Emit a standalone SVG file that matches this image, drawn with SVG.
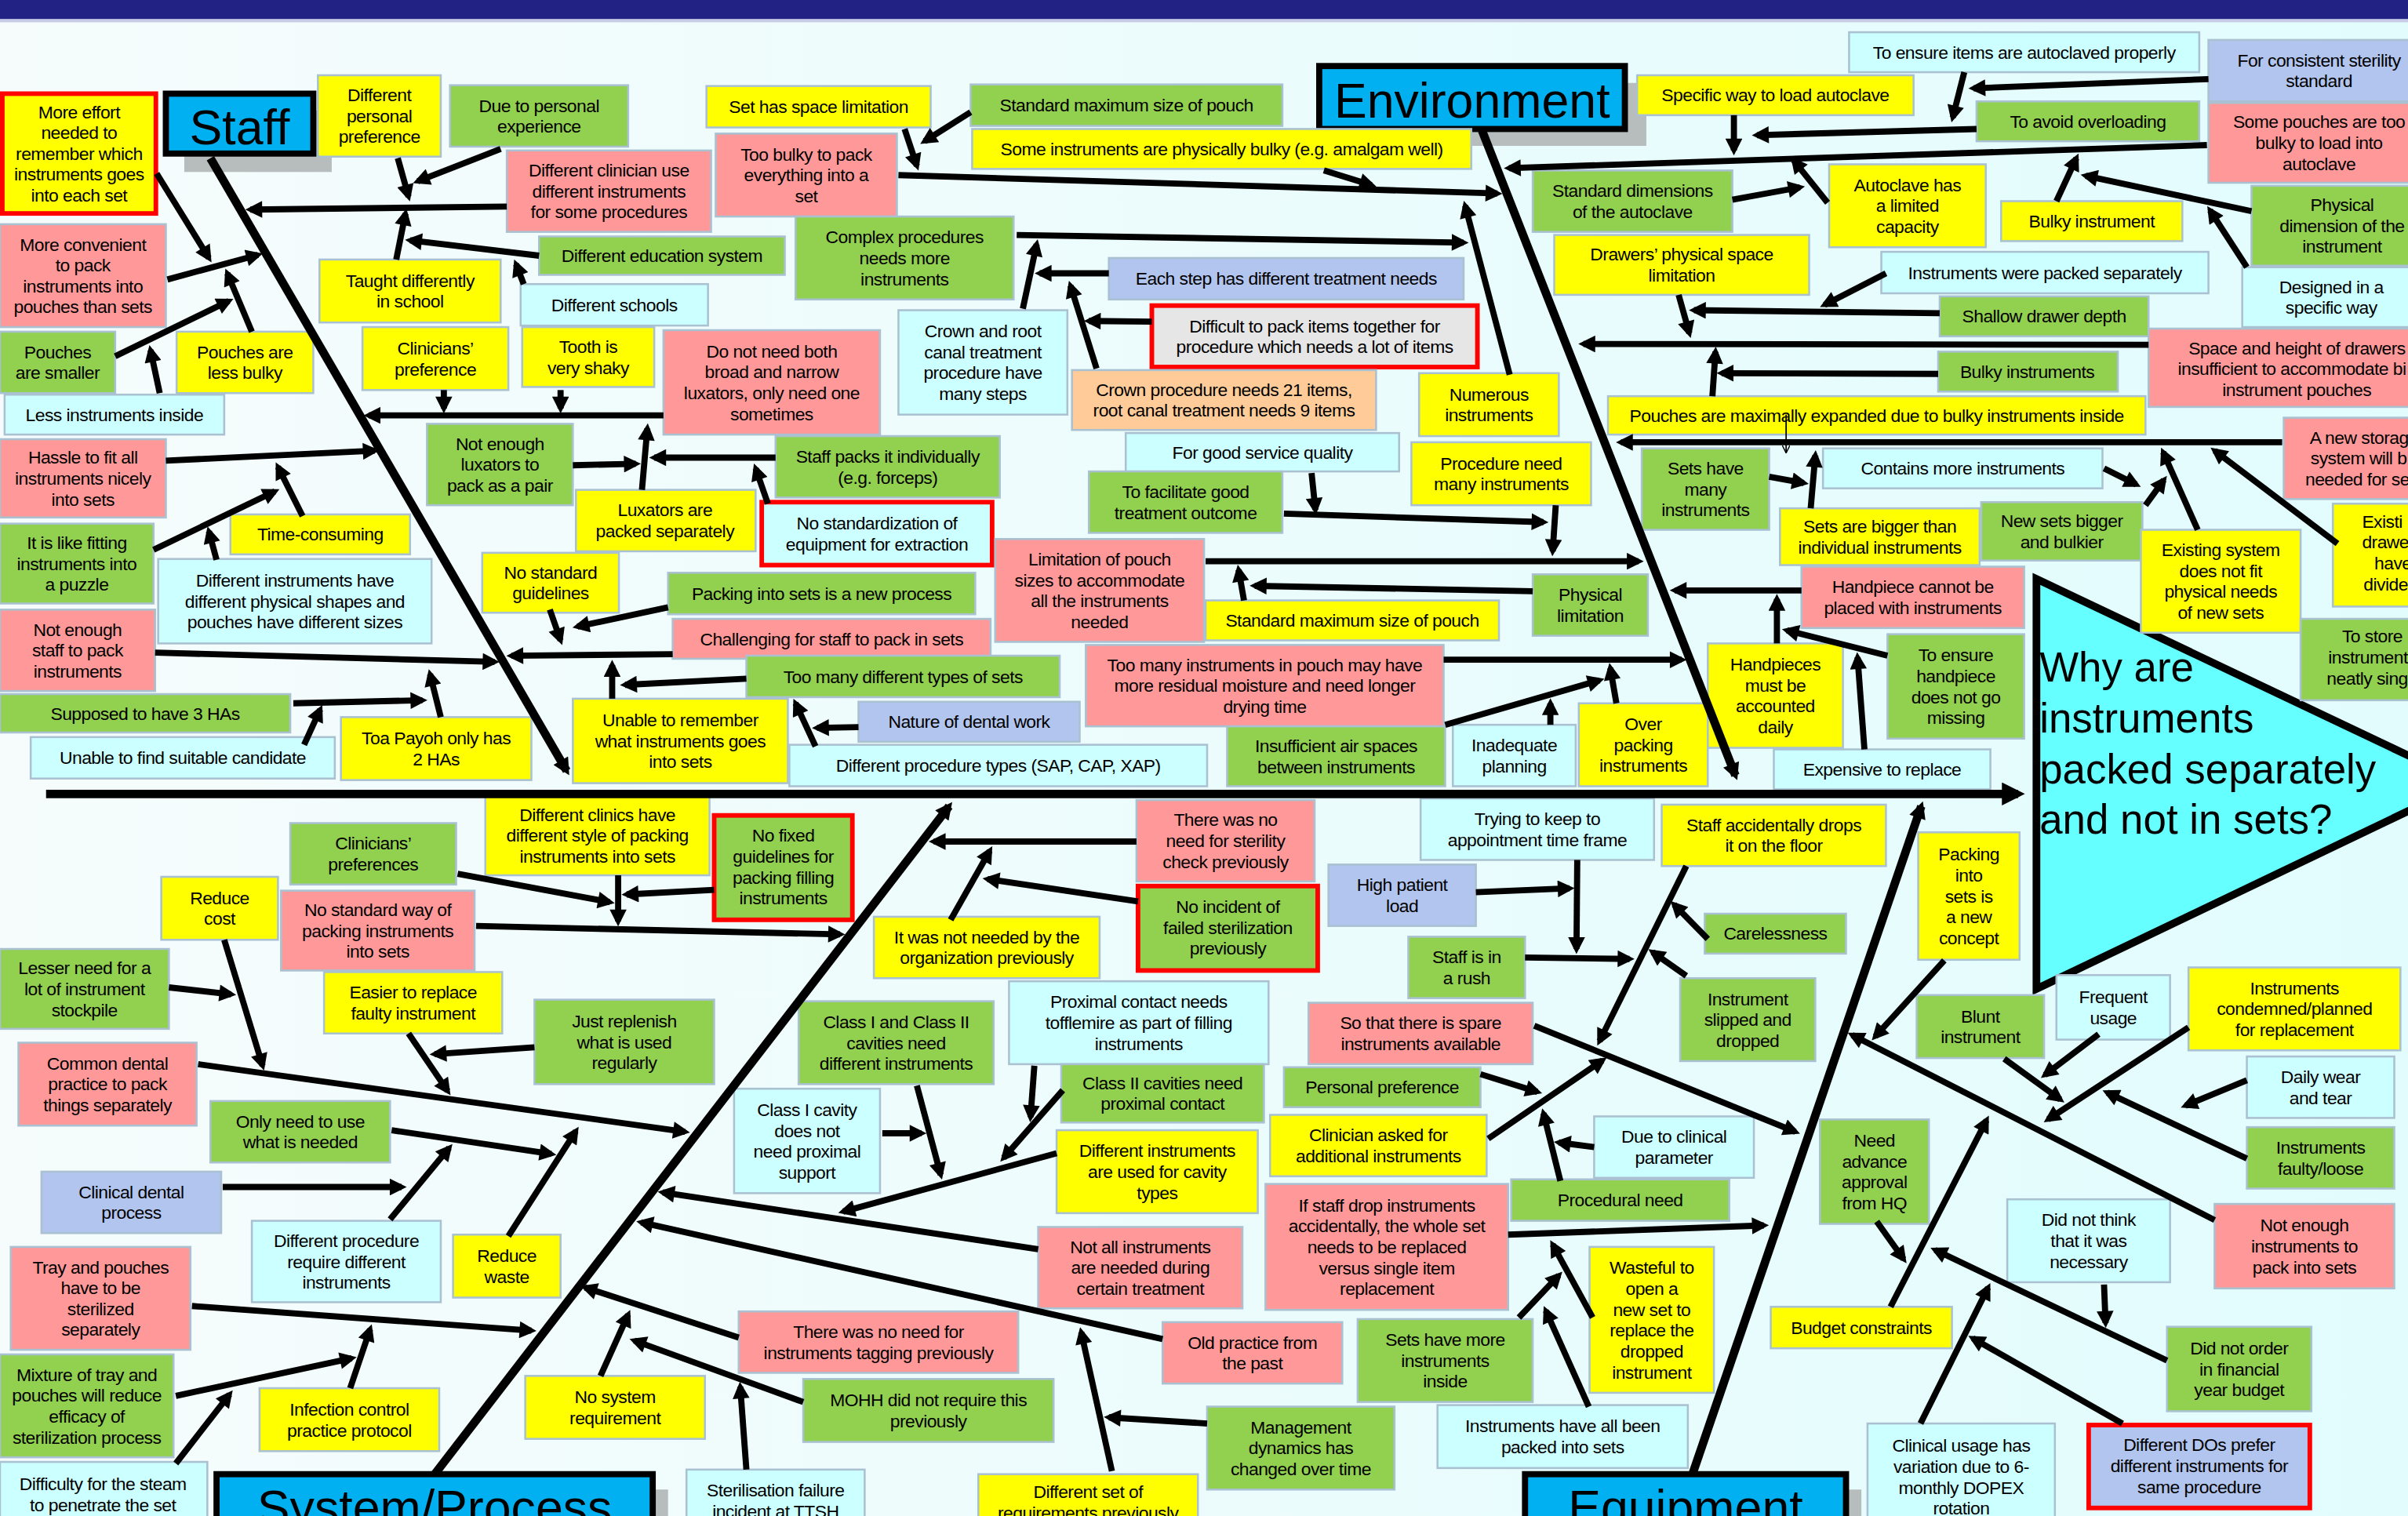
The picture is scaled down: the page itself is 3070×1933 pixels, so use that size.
<svg xmlns="http://www.w3.org/2000/svg" width="3070" height="1933" viewBox="0 0 3070 1933">
<defs>
<linearGradient id="bg" x1="0" y1="0" x2="1" y2="0"><stop offset="0" stop-color="#F6FCFC"/><stop offset="1" stop-color="#E2FCFD"/></linearGradient>
<marker id="a" viewBox="0 0 10 10" refX="7" refY="5" markerWidth="13" markerHeight="11" markerUnits="userSpaceOnUse" orient="auto"><path d="M0,0L10,5L0,10z"/></marker>
<marker id="ab" viewBox="0 0 10 10" refX="7" refY="5" markerWidth="16" markerHeight="15" markerUnits="userSpaceOnUse" orient="auto"><path d="M0,0L10,5L0,10z"/></marker>
<marker id="at" viewBox="0 0 10 10" refX="10" refY="5" markerWidth="5" markerHeight="5" markerUnits="userSpaceOnUse" orient="auto"><path d="M0,0L10,5L0,10" fill="none" stroke="#000" stroke-width="1.5"/></marker>
<style>
.b{stroke:#A9C1D1;stroke-width:1.3}
.r{stroke:#FF0000;stroke-width:3}
.y{fill:#FFFF00}.g{fill:#92D050}.p{fill:#FF9999}.c{fill:#CCFFFF}.l{fill:#B2C5EE}.o{fill:#FFCC99}.e{fill:#E6E6E6}
.h{fill:#00B0F0;stroke:#000;stroke-width:4}
.sh{fill:#B7BDBD}
.t{font-family:"Liberation Sans",Arial,sans-serif;font-size:11.7px;letter-spacing:-0.28px;text-anchor:middle;fill:#000}
.s{text-anchor:start}
.ht{font-family:"Liberation Sans",Arial,sans-serif;font-size:32px;text-anchor:middle;fill:#000}
.qt{font-family:"Liberation Sans",Arial,sans-serif;font-size:27px;fill:#000}
#conn line{stroke:#000;stroke-width:4;marker-end:url(#a)}
#conn line.bone{stroke-width:5.5}
#conn line.sp{stroke-width:5.5;marker-end:url(#ab)}
#conn line.thin{stroke-width:0.9;marker-end:url(#at)}
</style>
</defs>
<rect x="0" y="0" width="3070" height="1933" fill="url(#bg)"/>
<g transform="scale(1.958)">
<rect x="0" y="0" width="1570" height="12.5" fill="#222285"/>
<rect x="0" y="12.5" width="1570" height="2" fill="#C9CCE6"/>

<!-- headers -->
<g id="hdr-staff"><rect class="sh" x="120" y="72" width="96" height="40"/><rect class="h" x="108" y="61" width="96" height="39"/><text class="ht" x="156" y="94">Staff</text></g>
<g id="hdr-env"><rect class="sh" x="871" y="54" width="201" height="41"/><rect class="h" x="859" y="43" width="199" height="41"/><text class="ht" x="958.5" y="76.5">Environment</text></g>
<g id="hdr-sys"><rect class="sh" x="151" y="970" width="284" height="40"/><rect class="h" x="141" y="960" width="284" height="40"/><text class="ht" x="283" y="993">System/Process</text></g>
<g id="hdr-eq"><rect class="sh" x="1003" y="970" width="209" height="40"/><rect class="h" x="993" y="960" width="209" height="40"/><text class="ht" x="1097.5" y="993">Equipment</text></g>

<!-- effect -->
<g id="effect"><polygon points="1326,377 1606,510 1326,644" fill="#66FFFF" stroke="#000" stroke-width="5" stroke-linejoin="miter"/>
<text class="qt" x="1328" y="444">Why are<tspan x="1328" dy="33">instruments</tspan><tspan x="1328" dy="33">packed separately</tspan><tspan x="1328" dy="33">and not in sets?</tspan></text></g>

<!-- STAFF nodes -->
<g id="s1"><rect class="b y r" x="1.5" y="61" width="100" height="78"/><text class="t" x="51.5" y="76.9">More effort<tspan x="51.5" dy="13.6">needed to</tspan><tspan x="51.5" dy="13.6">remember which</tspan><tspan x="51.5" dy="13.6">instruments goes</tspan><tspan x="51.5" dy="13.6">into each set</tspan></text></g>
<g id="s3"><rect class="b y" x="207" y="49" width="80" height="53"/><text class="t" x="247" y="66">Different<tspan x="247" dy="13.6">personal</tspan><tspan x="247" dy="13.6">preference</tspan></text></g>
<g id="s4"><rect class="b g" x="293" y="55.5" width="116" height="40"/><text class="t" x="351" y="72.9">Due to personal<tspan x="351" dy="13.6">experience</tspan></text></g>
<g id="s5"><rect class="b p" x="330" y="98" width="133" height="53"/><text class="t" x="396.5" y="115">Different clinician use<tspan x="396.5" dy="13.6">different instruments</tspan><tspan x="396.5" dy="13.6">for some procedures</tspan></text></g>
<g id="s6"><rect class="b g" x="351" y="154" width="160" height="25"/><text class="t" x="431" y="170.6">Different education system</text></g>
<g id="s7"><rect class="b y" x="208" y="169" width="118" height="41"/><text class="t" x="267" y="186.8">Taught differently<tspan x="267" dy="13.6">in school</tspan></text></g>
<g id="s8"><rect class="b c" x="339" y="185" width="122" height="27"/><text class="t" x="400" y="202.6">Different schools</text></g>
<g id="s9"><rect class="b p" x="0" y="146" width="108" height="67"/><text class="t" x="54" y="163.2">More convenient<tspan x="54" dy="13.6">to pack</tspan><tspan x="54" dy="13.6">instruments into</tspan><tspan x="54" dy="13.6">pouches than sets</tspan></text></g>
<g id="s10"><rect class="b g" x="0" y="216" width="75" height="40"/><text class="t" x="37.5" y="233.3">Pouches<tspan x="37.5" dy="13.6">are smaller</tspan></text></g>
<g id="s11"><rect class="b y" x="115" y="216" width="89" height="40"/><text class="t" x="159.5" y="233.3">Pouches are<tspan x="159.5" dy="13.6">less bulky</tspan></text></g>
<g id="s12"><rect class="b c" x="3" y="257" width="143" height="26"/><text class="t" x="74.5" y="274.1">Less instruments inside</text></g>
<g id="s13"><rect class="b y" x="236" y="213" width="95" height="41"/><text class="t" x="283.5" y="230.8">Clinicians’<tspan x="283.5" dy="13.6">preference</tspan></text></g>
<g id="s14"><rect class="b y" x="340" y="213" width="86" height="39"/><text class="t" x="383" y="229.8">Tooth is<tspan x="383" dy="13.6">very shaky</tspan></text></g>
<g id="s15"><rect class="b p" x="432" y="215" width="141" height="68"/><text class="t" x="502.5" y="232.7">Do not need both<tspan x="502.5" dy="13.6">broad and narrow</tspan><tspan x="502.5" dy="13.6">luxators, only need one</tspan><tspan x="502.5" dy="13.6">sometimes</tspan></text></g>
<g id="s16"><rect class="b p" x="0" y="286" width="108" height="51"/><text class="t" x="54" y="302">Hassle to fit all<tspan x="54" dy="13.6">instruments nicely</tspan><tspan x="54" dy="13.6">into sets</tspan></text></g>
<g id="s17"><rect class="b g" x="278" y="276" width="95" height="53"/><text class="t" x="325.5" y="293">Not enough<tspan x="325.5" dy="13.6">luxators to</tspan><tspan x="325.5" dy="13.6">pack as a pair</tspan></text></g>
<g id="s18"><rect class="b g" x="505" y="284" width="146" height="40"/><text class="t" x="578" y="301.3">Staff packs it individually<tspan x="578" dy="13.6">(e.g. forceps)</tspan></text></g>
<g id="s19"><rect class="b y" x="375" y="319" width="117" height="40"/><text class="t" x="433" y="336.3">Luxators are<tspan x="433" dy="13.6">packed separately</tspan></text></g>
<g id="s20"><rect class="b c r" x="496" y="327" width="150" height="41"/><text class="t" x="571" y="344.8">No standardization of<tspan x="571" dy="13.6">equipment for extraction</tspan></text></g>
<g id="s21"><rect class="b y" x="150" y="335" width="117" height="26"/><text class="t" x="208.5" y="352.1">Time-consuming</text></g>
<g id="s22"><rect class="b g" x="0" y="341" width="100" height="52"/><text class="t" x="50" y="357.5">It is like fitting<tspan x="50" dy="13.6">instruments into</tspan><tspan x="50" dy="13.6">a puzzle</tspan></text></g>
<g id="s23"><rect class="b c" x="103" y="364" width="178" height="55"/><text class="t" x="192" y="382">Different instruments have<tspan x="192" dy="13.6">different physical shapes and</tspan><tspan x="192" dy="13.6">pouches have different sizes</tspan></text></g>
<g id="s24"><rect class="b y" x="314" y="360" width="89" height="39"/><text class="t" x="358.5" y="376.8">No standard<tspan x="358.5" dy="13.6">guidelines</tspan></text></g>
<g id="s25"><rect class="b g" x="435" y="373" width="200" height="27"/><text class="t" x="535" y="390.6">Packing into sets is a new process</text></g>
<g id="s26"><rect class="b p" x="0" y="397" width="101" height="53"/><text class="t" x="50.5" y="414">Not enough<tspan x="50.5" dy="13.6">staff to pack</tspan><tspan x="50.5" dy="13.6">instruments</tspan></text></g>
<g id="s27"><rect class="b p" x="438" y="403" width="207" height="26"/><text class="t" x="541.5" y="420.1">Challenging for staff to pack in sets</text></g>
<g id="s28"><rect class="b g" x="486" y="427" width="204" height="27"/><text class="t" x="588" y="444.6">Too many different types of sets</text></g>
<g id="s29"><rect class="b g" x="0" y="452" width="189" height="25"/><text class="t" x="94.5" y="468.6">Supposed to have 3 HAs</text></g>
<g id="s30"><rect class="b y" x="373" y="455" width="140" height="55"/><text class="t" x="443" y="473">Unable to remember<tspan x="443" dy="13.6">what instruments goes</tspan><tspan x="443" dy="13.6">into sets</tspan></text></g>
<g id="s31"><rect class="b l" x="559" y="457" width="144" height="26"/><text class="t" x="631" y="474.1">Nature of dental work</text></g>
<g id="s32"><rect class="b y" x="222" y="467" width="124" height="41"/><text class="t" x="284" y="484.8">Toa Payoh only has<tspan x="284" dy="13.6">2 HAs</tspan></text></g>
<g id="s33"><rect class="b c" x="20" y="480" width="198" height="27"/><text class="t" x="119" y="497.6">Unable to find suitable candidate</text></g>
<g id="s34"><rect class="b c" x="514" y="485" width="272" height="27"/><text class="t" x="650" y="502.6">Different procedure types (SAP, CAP, XAP)</text></g>

<!-- ENVIRONMENT nodes -->
<g id="e35"><rect class="b y" x="460" y="56" width="146" height="27"/><text class="t" x="533" y="73.6">Set has space limitation</text></g>
<g id="e36"><rect class="b g" x="632" y="55" width="203" height="27"/><text class="t" x="733.5" y="72.6">Standard maximum size of pouch</text></g>
<g id="e37"><rect class="b y" x="633" y="84" width="325" height="26"/><text class="t" x="795.5" y="101.1">Some instruments are physically bulky (e.g. amalgam well)</text></g>
<g id="e38"><rect class="b p" x="466" y="87" width="118" height="54"/><text class="t" x="525" y="104.5">Too bulky to pack<tspan x="525" dy="13.6">everything into a</tspan><tspan x="525" dy="13.6">set</tspan></text></g>
<g id="e39"><rect class="b g" x="518" y="141" width="142" height="54"/><text class="t" x="589" y="158.5">Complex procedures<tspan x="589" dy="13.6">needs more</tspan><tspan x="589" dy="13.6">instruments</tspan></text></g>
<g id="e40"><rect class="b l" x="722" y="168" width="231" height="27"/><text class="t" x="837.5" y="185.6">Each step has different treatment needs</text></g>
<g id="e41"><rect class="b e r" x="750" y="199" width="212" height="40"/><text class="t" x="856" y="216.3">Difficult to pack items together for<tspan x="856" dy="13.6">procedure which needs a lot of items</tspan></text></g>
<g id="e42"><rect class="b c" x="585" y="202" width="110" height="68"/><text class="t" x="640" y="219.7">Crown and root<tspan x="640" dy="13.6">canal treatment</tspan><tspan x="640" dy="13.6">procedure have</tspan><tspan x="640" dy="13.6">many steps</tspan></text></g>
<g id="e43"><rect class="b o" x="698" y="241" width="198" height="39"/><text class="t" x="797" y="257.8">Crown procedure needs 21 items,<tspan x="797" dy="13.6">root canal treatment needs 9 items</tspan></text></g>
<g id="e44"><rect class="b c" x="733" y="282" width="178" height="25"/><text class="t" x="822" y="298.6">For good service quality</text></g>
<g id="e45"><rect class="b g" x="709" y="307" width="126" height="40"/><text class="t" x="772" y="324.3">To facilitate good<tspan x="772" dy="13.6">treatment outcome</tspan></text></g>
<g id="e46"><rect class="b y" x="924" y="243" width="91" height="41"/><text class="t" x="969.5" y="260.8">Numerous<tspan x="969.5" dy="13.6">instruments</tspan></text></g>
<g id="e47"><rect class="b y" x="919" y="288" width="117" height="41"/><text class="t" x="977.5" y="305.8">Procedure need<tspan x="977.5" dy="13.6">many instruments</tspan></text></g>
<g id="e48"><rect class="b p" x="648" y="351" width="136" height="67"/><text class="t" x="716" y="368.2">Limitation of pouch<tspan x="716" dy="13.6">sizes to accommodate</tspan><tspan x="716" dy="13.6">all the instruments</tspan><tspan x="716" dy="13.6">needed</tspan></text></g>
<g id="e49"><rect class="b y" x="785" y="391" width="191" height="26"/><text class="t" x="880.5" y="408.1">Standard maximum size of pouch</text></g>
<g id="e50"><rect class="b g" x="998" y="374" width="75" height="40"/><text class="t" x="1035.5" y="391.3">Physical<tspan x="1035.5" dy="13.6">limitation</tspan></text></g>
<g id="e51"><rect class="b p" x="707" y="420" width="233" height="53"/><text class="t" x="823.5" y="437">Too many instruments in pouch may have<tspan x="823.5" dy="13.6">more residual moisture and need longer</tspan><tspan x="823.5" dy="13.6">drying time</tspan></text></g>
<g id="e52"><rect class="b g" x="799" y="473" width="142" height="39"/><text class="t" x="870" y="489.8">Insufficient air spaces<tspan x="870" dy="13.6">between instruments</tspan></text></g>
<g id="e53"><rect class="b c" x="946" y="472" width="80" height="40"/><text class="t" x="986" y="489.3">Inadequate<tspan x="986" dy="13.6">planning</tspan></text></g>
<g id="e54"><rect class="b y" x="1028" y="458" width="84" height="54"/><text class="t" x="1070" y="475.5">Over<tspan x="1070" dy="13.6">packing</tspan><tspan x="1070" dy="13.6">instruments</tspan></text></g>
<g id="e56"><rect class="b y" x="1066" y="49" width="180" height="26"/><text class="t" x="1156" y="66.1">Specific way to load autoclave</text></g>
<g id="e57"><rect class="b c" x="1204" y="21" width="228" height="26"/><text class="t" x="1318" y="38.1">To ensure items are autoclaved properly</text></g>
<g id="e58"><rect class="b l" x="1438" y="26" width="144" height="40"/><text class="t" x="1510" y="43.3">For consistent sterility<tspan x="1510" dy="13.6">standard</tspan></text></g>
<g id="e59"><rect class="b g" x="1287" y="66" width="145" height="26"/><text class="t" x="1359.5" y="83.1">To avoid overloading</text></g>
<g id="e60"><rect class="b p" x="1438" y="67" width="144" height="52"/><text class="t" x="1510" y="83.5">Some pouches are too<tspan x="1510" dy="13.6">bulky to load into</tspan><tspan x="1510" dy="13.6">autoclave</tspan></text></g>
<g id="e61"><rect class="b g" x="998" y="111" width="130" height="40"/><text class="t" x="1063" y="128.3">Standard dimensions<tspan x="1063" dy="13.6">of the autoclave</tspan></text></g>
<g id="e62"><rect class="b y" x="1191" y="107" width="102" height="54"/><text class="t" x="1242" y="124.5">Autoclave has<tspan x="1242" dy="13.6">a limited</tspan><tspan x="1242" dy="13.6">capacity</tspan></text></g>
<g id="e63"><rect class="b y" x="1303" y="131" width="118" height="26"/><text class="t" x="1362" y="148.1">Bulky instrument</text></g>
<g id="e64"><rect class="b g" x="1466" y="121" width="119" height="52"/><text class="t" x="1525" y="137.5">Physical<tspan x="1525" dy="13.6">dimension of the</tspan><tspan x="1525" dy="13.6">instrument</tspan></text></g>
<g id="e65"><rect class="b y" x="1012" y="153" width="166" height="39"/><text class="t" x="1095" y="169.8">Drawers’ physical space<tspan x="1095" dy="13.6">limitation</tspan></text></g>
<g id="e66"><rect class="b c" x="1225" y="164" width="213" height="27"/><text class="t" x="1331.5" y="181.6">Instruments were packed separately</text></g>
<g id="e67"><rect class="b c" x="1460" y="174" width="117" height="39"/><text class="t" x="1518" y="190.8">Designed in a<tspan x="1518" dy="13.6">specific way</tspan></text></g>
<g id="e68"><rect class="b g" x="1263" y="193" width="136" height="26"/><text class="t" x="1331" y="210.1">Shallow drawer depth</text></g>
<g id="e69"><rect class="b p" x="1399" y="214" width="180" height="51"/><text class="t s" x="1425" y="230.6">Space and height of drawers<tspan x="1418" dy="13.6">insufficient to accommodate bi</tspan><tspan x="1447" dy="13.6">instrument pouches</tspan></text></g>
<g id="e70"><rect class="b g" x="1262" y="229" width="117" height="26"/><text class="t" x="1320" y="246.1">Bulky instruments</text></g>
<g id="e71"><rect class="b y" x="1047" y="258" width="350" height="25"/><text class="t" x="1222" y="274.6">Pouches are maximally expanded due to bulky instruments inside</text></g>
<g id="e72"><rect class="b p" x="1487" y="272" width="90" height="53"/><text class="t s" x="1504" y="289">A new storag<tspan x="1504.5" dy="13.6">system will b</tspan><tspan x="1501" dy="13.6">needed for se</tspan></text></g>
<g id="e73"><rect class="b g" x="1069" y="292" width="83" height="53"/><text class="t" x="1110.5" y="309">Sets have<tspan x="1110.5" dy="13.6">many</tspan><tspan x="1110.5" dy="13.6">instruments</tspan></text></g>
<g id="e74"><rect class="b c" x="1187" y="292" width="182" height="26"/><text class="t" x="1278" y="309.1">Contains more instruments</text></g>
<g id="e75"><rect class="b y" x="1159" y="331" width="130" height="37"/><text class="t" x="1224" y="346.8">Sets are bigger than<tspan x="1224" dy="13.6">individual instruments</tspan></text></g>
<g id="e76"><rect class="b g" x="1290" y="327" width="105" height="38"/><text class="t" x="1342.5" y="343.3">New sets bigger<tspan x="1342.5" dy="13.6">and bulkier</tspan></text></g>
<g id="e77"><rect class="b y" x="1394" y="345" width="104" height="67"/><text class="t" x="1446" y="362.2">Existing system<tspan x="1446" dy="13.6">does not fit</tspan><tspan x="1446" dy="13.6">physical needs</tspan><tspan x="1446" dy="13.6">of new sets</tspan></text></g>
<g id="e78"><rect class="b y" x="1519" y="328" width="60" height="67"/><text class="t s" x="1538" y="343.6">Existi<tspan x="1538" dy="13.6">drawe</tspan><tspan x="1546" dy="13.6">have</tspan><tspan x="1539" dy="13.6">divide</tspan></text></g>
<g id="e79"><rect class="b p" x="1173" y="369" width="145" height="40"/><text class="t" x="1245.5" y="386.3">Handpiece cannot be<tspan x="1245.5" dy="13.6">placed with instruments</tspan></text></g>
<g id="e80"><rect class="b g" x="1229" y="413" width="89" height="68"/><text class="t" x="1273.5" y="430.7">To ensure<tspan x="1273.5" dy="13.6">handpiece</tspan><tspan x="1273.5" dy="13.6">does not go</tspan><tspan x="1273.5" dy="13.6">missing</tspan></text></g>
<g id="e81"><rect class="b y" x="1112" y="419" width="88" height="68"/><text class="t" x="1156" y="436.7">Handpieces<tspan x="1156" dy="13.6">must be</tspan><tspan x="1156" dy="13.6">accounted</tspan><tspan x="1156" dy="13.6">daily</tspan></text></g>
<g id="e82"><rect class="b g" x="1498" y="403" width="80" height="53"/><text class="t s" x="1525" y="418.5">To store<tspan x="1516" dy="13.6">instrument</tspan><tspan x="1515" dy="13.6">neatly sing</tspan></text></g>
<g id="e83"><rect class="b c" x="1155" y="488" width="141" height="26"/><text class="t" x="1225.5" y="505.1">Expensive to replace</text></g>

<!-- SYSTEM / PROCESS nodes -->
<g id="p1"><rect class="b g" x="189" y="536" width="108" height="40"/><text class="t" x="243" y="553.3">Clinicians’<tspan x="243" dy="13.6">preferences</tspan></text></g>
<g id="p2"><rect class="b y" x="316" y="518" width="146" height="52"/><text class="t" x="389" y="534.5">Different clinics have<tspan x="389" dy="13.6">different style of packing</tspan><tspan x="389" dy="13.6">instruments into sets</tspan></text></g>
<g id="p3"><rect class="b y" x="105" y="571" width="76" height="41"/><text class="t" x="143" y="588.8">Reduce<tspan x="143" dy="13.6">cost</tspan></text></g>
<g id="p4"><rect class="b p" x="183" y="580" width="126" height="52"/><text class="t" x="246" y="596.5">No standard way of<tspan x="246" dy="13.6">packing instruments</tspan><tspan x="246" dy="13.6">into sets</tspan></text></g>
<g id="p5"><rect class="b g r" x="465" y="531" width="90" height="68"/><text class="t" x="510" y="548.2">No fixed<tspan x="510" dy="13.6">guidelines for</tspan><tspan x="510" dy="13.6">packing filling</tspan><tspan x="510" dy="13.6">instruments</tspan></text></g>
<g id="p6"><rect class="b g" x="0" y="618" width="110" height="52"/><text class="t" x="55" y="634.5">Lesser need for a<tspan x="55" dy="13.6">lot of instrument</tspan><tspan x="55" dy="13.6">stockpile</tspan></text></g>
<g id="p7"><rect class="b y" x="211" y="633" width="116" height="40"/><text class="t" x="269" y="650.3">Easier to replace<tspan x="269" dy="13.6">faulty instrument</tspan></text></g>
<g id="p8"><rect class="b g" x="348" y="651" width="117" height="55"/><text class="t" x="406.5" y="669">Just replenish<tspan x="406.5" dy="13.6">what is used</tspan><tspan x="406.5" dy="13.6">regularly</tspan></text></g>
<g id="p9"><rect class="b p" x="12" y="679" width="116" height="54"/><text class="t" x="70" y="696.5">Common dental<tspan x="70" dy="13.6">practice to pack</tspan><tspan x="70" dy="13.6">things separately</tspan></text></g>
<g id="p10"><rect class="b g" x="137" y="717" width="117" height="40"/><text class="t" x="195.5" y="734.3">Only need to use<tspan x="195.5" dy="13.6">what is needed</tspan></text></g>
<g id="p11"><rect class="b l" x="27" y="763" width="117" height="40"/><text class="t" x="85.5" y="780.3">Clinical dental<tspan x="85.5" dy="13.6">process</tspan></text></g>
<g id="p12"><rect class="b c" x="164" y="795" width="123" height="53"/><text class="t" x="225.5" y="812">Different procedure<tspan x="225.5" dy="13.6">require different</tspan><tspan x="225.5" dy="13.6">instruments</tspan></text></g>
<g id="p13"><rect class="b y" x="295" y="804" width="70" height="41"/><text class="t" x="330" y="821.8">Reduce<tspan x="330" dy="13.6">waste</tspan></text></g>
<g id="p14"><rect class="b p" x="7" y="812" width="117" height="67"/><text class="t" x="65.5" y="829.2">Tray and pouches<tspan x="65.5" dy="13.6">have to be</tspan><tspan x="65.5" dy="13.6">sterilized</tspan><tspan x="65.5" dy="13.6">separately</tspan></text></g>
<g id="p15"><rect class="b g" x="0" y="882" width="113" height="67"/><text class="t" x="56.5" y="899.2">Mixture of tray and<tspan x="56.5" dy="13.6">pouches will reduce</tspan><tspan x="56.5" dy="13.6">efficacy of</tspan><tspan x="56.5" dy="13.6">sterilization process</tspan></text></g>
<g id="p16"><rect class="b y" x="169" y="904" width="117" height="41"/><text class="t" x="227.5" y="921.8">Infection control<tspan x="227.5" dy="13.6">practice protocol</tspan></text></g>
<g id="p17"><rect class="b c" x="0" y="952" width="135" height="44"/><text class="t" x="67" y="970.5">Difficulty for the steam<tspan x="67" dy="13.6">to penetrate the set</tspan></text></g>
<g id="p18"><rect class="b y" x="342" y="896" width="117" height="41"/><text class="t" x="400.5" y="913.8">No system<tspan x="400.5" dy="13.6">requirement</tspan></text></g>
<g id="p19"><rect class="b c" x="447" y="957" width="116" height="40"/><text class="t" x="505" y="974.5">Sterilisation failure<tspan x="505" dy="13.6">incident at TTSH</tspan></text></g>
<g id="p20"><rect class="b y" x="569" y="597" width="147" height="40"/><text class="t" x="642.5" y="614.3">It was not needed by the<tspan x="642.5" dy="13.6">organization previously</tspan></text></g>
<g id="p21"><rect class="b p" x="740" y="521" width="116" height="53"/><text class="t" x="798" y="538">There was no<tspan x="798" dy="13.6">need for sterility</tspan><tspan x="798" dy="13.6">check previously</tspan></text></g>
<g id="p22"><rect class="b g r" x="741" y="577" width="117" height="55"/><text class="t" x="799.5" y="594.5">No incident of<tspan x="799.5" dy="13.6">failed sterilization</tspan><tspan x="799.5" dy="13.6">previously</tspan></text></g>
<g id="p23"><rect class="b g" x="520" y="652" width="127" height="54"/><text class="t" x="583.5" y="669.5">Class I and Class II<tspan x="583.5" dy="13.6">cavities need</tspan><tspan x="583.5" dy="13.6">different instruments</tspan></text></g>
<g id="p24"><rect class="b c" x="657" y="639" width="169" height="54"/><text class="t" x="741.5" y="656.5">Proximal contact needs<tspan x="741.5" dy="13.6">tofflemire as part of filling</tspan><tspan x="741.5" dy="13.6">instruments</tspan></text></g>
<g id="p25"><rect class="b c" x="478" y="709" width="95" height="68"/><text class="t" x="525.5" y="726.7">Class I cavity<tspan x="525.5" dy="13.6">does not</tspan><tspan x="525.5" dy="13.6">need proximal</tspan><tspan x="525.5" dy="13.6">support</tspan></text></g>
<g id="p26"><rect class="b g" x="691" y="693" width="132" height="38"/><text class="t" x="757" y="709.3">Class II cavities need<tspan x="757" dy="13.6">proximal contact</tspan></text></g>
<g id="p27"><rect class="b y" x="688" y="736" width="131" height="54"/><text class="t" x="753.5" y="753.5">Different instruments<tspan x="753.5" dy="13.6">are used for cavity</tspan><tspan x="753.5" dy="13.6">types</tspan></text></g>
<g id="p28"><rect class="b p" x="676" y="799" width="133" height="53"/><text class="t" x="742.5" y="816">Not all instruments<tspan x="742.5" dy="13.6">are needed during</tspan><tspan x="742.5" dy="13.6">certain treatment</tspan></text></g>
<g id="p29"><rect class="b p" x="481" y="854" width="182" height="40"/><text class="t" x="572" y="871.3">There was no need for<tspan x="572" dy="13.6">instruments tagging previously</tspan></text></g>
<g id="p30"><rect class="b g" x="523" y="898" width="163" height="41"/><text class="t" x="604.5" y="915.8">MOHH did not require this<tspan x="604.5" dy="13.6">previously</tspan></text></g>
<g id="p31"><rect class="b p" x="757" y="861" width="117" height="40"/><text class="t" x="815.5" y="878.3">Old practice from<tspan x="815.5" dy="13.6">the past</tspan></text></g>
<g id="p32"><rect class="b g" x="786" y="916" width="122" height="54"/><text class="t" x="847" y="933.5">Management<tspan x="847" dy="13.6">dynamics has</tspan><tspan x="847" dy="13.6">changed over time</tspan></text></g>
<g id="p33"><rect class="b y" x="637" y="960" width="143" height="40"/><text class="t" x="708.5" y="975.5">Different set of<tspan x="708.5" dy="13.6">requirements previously</tspan></text></g>

<!-- EQUIPMENT nodes -->
<g id="q1"><rect class="b c" x="925" y="520" width="152" height="40"/><text class="t" x="1001" y="537.3">Trying to keep to<tspan x="1001" dy="13.6">appointment time frame</tspan></text></g>
<g id="q2"><rect class="b y" x="1082" y="524" width="146" height="40"/><text class="t" x="1155" y="541.3">Staff accidentally drops<tspan x="1155" dy="13.6">it on the floor</tspan></text></g>
<g id="q3"><rect class="b l" x="865" y="563" width="96" height="40"/><text class="t" x="913" y="580.3">High patient<tspan x="913" dy="13.6">load</tspan></text></g>
<g id="q4"><rect class="b g" x="917" y="610" width="76" height="40"/><text class="t" x="955" y="627.3">Staff is in<tspan x="955" dy="13.6">a rush</tspan></text></g>
<g id="q5"><rect class="b g" x="1110" y="595" width="92" height="26"/><text class="t" x="1156" y="612.1">Carelessness</text></g>
<g id="q6"><rect class="b g" x="1094" y="637" width="88" height="54"/><text class="t" x="1138" y="654.5">Instrument<tspan x="1138" dy="13.6">slipped and</tspan><tspan x="1138" dy="13.6">dropped</tspan></text></g>
<g id="q7"><rect class="b p" x="852" y="653" width="146" height="40"/><text class="t" x="925" y="670.3">So that there is spare<tspan x="925" dy="13.6">instruments available</tspan></text></g>
<g id="q8"><rect class="b g" x="836" y="695" width="128" height="26"/><text class="t" x="900" y="712.1">Personal preference</text></g>
<g id="q9"><rect class="b y" x="827" y="726" width="141" height="40"/><text class="t" x="897.5" y="743.3">Clinician asked for<tspan x="897.5" dy="13.6">additional instruments</tspan></text></g>
<g id="q10"><rect class="b c" x="1038" y="727" width="104" height="40"/><text class="t" x="1090" y="744.3">Due to clinical<tspan x="1090" dy="13.6">parameter</tspan></text></g>
<g id="q11"><rect class="b g" x="984" y="768" width="142" height="27"/><text class="t" x="1055" y="785.6">Procedural need</text></g>
<g id="q12"><rect class="b p" x="824" y="771" width="158" height="82"/><text class="t" x="903" y="788.9">If staff drop instruments<tspan x="903" dy="13.6">accidentally, the whole set</tspan><tspan x="903" dy="13.6">needs to be replaced</tspan><tspan x="903" dy="13.6">versus single item</tspan><tspan x="903" dy="13.6">replacement</tspan></text></g>
<g id="q13"><rect class="b y" x="1035" y="812" width="81" height="95"/><text class="t" x="1075.5" y="829.6">Wasteful to<tspan x="1075.5" dy="13.6">open a</tspan><tspan x="1075.5" dy="13.6">new set to</tspan><tspan x="1075.5" dy="13.6">replace the</tspan><tspan x="1075.5" dy="13.6">dropped</tspan><tspan x="1075.5" dy="13.6">instrument</tspan></text></g>
<g id="q14"><rect class="b g" x="884" y="859" width="114" height="54"/><text class="t" x="941" y="876.5">Sets have more<tspan x="941" dy="13.6">instruments</tspan><tspan x="941" dy="13.6">inside</tspan></text></g>
<g id="q15"><rect class="b c" x="936" y="915" width="163" height="41"/><text class="t" x="1017.5" y="932.8">Instruments have all been<tspan x="1017.5" dy="13.6">packed into sets</tspan></text></g>
<g id="q16"><rect class="b y" x="1249" y="542" width="66" height="83"/><text class="t" x="1282" y="560.4">Packing<tspan x="1282" dy="13.6">into</tspan><tspan x="1282" dy="13.6">sets is</tspan><tspan x="1282" dy="13.6">a new</tspan><tspan x="1282" dy="13.6">concept</tspan></text></g>
<g id="q17"><rect class="b g" x="1248" y="648" width="83" height="41"/><text class="t" x="1289.5" y="665.8">Blunt<tspan x="1289.5" dy="13.6">instrument</tspan></text></g>
<g id="q18"><rect class="b c" x="1339" y="635" width="74" height="42"/><text class="t" x="1376" y="653.3">Frequent<tspan x="1376" dy="13.6">usage</tspan></text></g>
<g id="q19"><rect class="b y" x="1425" y="630" width="138" height="54"/><text class="t" x="1494" y="647.5">Instruments<tspan x="1494" dy="13.6">condemned/planned</tspan><tspan x="1494" dy="13.6">for replacement</tspan></text></g>
<g id="q20"><rect class="b c" x="1463" y="688" width="96" height="40"/><text class="t" x="1511" y="705.3">Daily wear<tspan x="1511" dy="13.6">and tear</tspan></text></g>
<g id="q21"><rect class="b g" x="1463" y="734" width="96" height="40"/><text class="t" x="1511" y="751.3">Instruments<tspan x="1511" dy="13.6">faulty/loose</tspan></text></g>
<g id="q22"><rect class="b g" x="1185" y="729" width="71" height="68"/><text class="t" x="1220.5" y="746.7">Need<tspan x="1220.5" dy="13.6">advance</tspan><tspan x="1220.5" dy="13.6">approval</tspan><tspan x="1220.5" dy="13.6">from HQ</tspan></text></g>
<g id="q23"><rect class="b p" x="1442" y="784" width="117" height="55"/><text class="t" x="1500.5" y="802">Not enough<tspan x="1500.5" dy="13.6">instruments to</tspan><tspan x="1500.5" dy="13.6">pack into sets</tspan></text></g>
<g id="q24"><rect class="b c" x="1307" y="781" width="106" height="54"/><text class="t" x="1360" y="798.5">Did not think<tspan x="1360" dy="13.6">that it was</tspan><tspan x="1360" dy="13.6">necessary</tspan></text></g>
<g id="q25"><rect class="b y" x="1153" y="851" width="118" height="27"/><text class="t" x="1212" y="868.6">Budget constraints</text></g>
<g id="q26"><rect class="b g" x="1411" y="864" width="94" height="55"/><text class="t" x="1458" y="882">Did not order<tspan x="1458" dy="13.6">in financial</tspan><tspan x="1458" dy="13.6">year budget</tspan></text></g>
<g id="q27"><rect class="b c" x="1216" y="927" width="122" height="70"/><text class="t" x="1277" y="945.5">Clinical usage has<tspan x="1277" dy="13.6">variation due to 6-</tspan><tspan x="1277" dy="13.6">monthly DOPEX</tspan><tspan x="1277" dy="13.6">rotation</tspan></text></g>
<g id="q28"><rect class="b l r" x="1360" y="928" width="144" height="54"/><text class="t" x="1432" y="945">Different DOs prefer<tspan x="1432" dy="13.6">different instruments for</tspan><tspan x="1432" dy="13.6">same procedure</tspan></text></g>

<!-- connectors -->
<g id="conn">
<line class="sp" x1="30" y1="517" x2="1314" y2="517"/>
<line class="bone" x1="137" y1="103" x2="369" y2="502"/>
<line class="bone" x1="965" y1="85" x2="1130" y2="505"/>
<line class="bone" x1="283" y1="960" x2="618" y2="525"/>
<line class="bone" x1="1102" y1="960" x2="1251" y2="525"/>
<line x1="259" y1="103" x2="266" y2="128"/>
<line x1="326" y1="97" x2="272" y2="118"/>
<line x1="330" y1="134.5" x2="163" y2="136.5"/>
<line x1="258" y1="169" x2="264" y2="139"/>
<line x1="351" y1="166.5" x2="267" y2="156.5"/>
<line x1="341" y1="185" x2="336" y2="172"/>
<line x1="102" y1="113" x2="136" y2="168"/>
<line x1="109" y1="182" x2="168" y2="166"/>
<line x1="164" y1="216" x2="148" y2="178"/>
<line x1="75" y1="232" x2="149" y2="196"/>
<line x1="104" y1="256" x2="98" y2="228"/>
<line x1="432" y1="270.5" x2="240" y2="270.5"/>
<line x1="289" y1="254" x2="289" y2="266"/>
<line x1="365" y1="254" x2="365" y2="266"/>
<line x1="108" y1="300" x2="244" y2="293.5"/>
<line x1="197" y1="336" x2="181" y2="304"/>
<line x1="100" y1="358" x2="179" y2="320"/>
<line x1="141" y1="364.5" x2="136" y2="346"/>
<line x1="101" y1="425" x2="322" y2="431"/>
<line x1="191" y1="458" x2="275" y2="456"/>
<line x1="198" y1="485" x2="208.5" y2="462"/>
<line x1="287" y1="467" x2="280" y2="439"/>
<line x1="438" y1="426" x2="333" y2="427"/>
<line x1="358" y1="397" x2="365" y2="417"/>
<line x1="435" y1="395.5" x2="376" y2="408"/>
<line x1="398.6" y1="455" x2="398.6" y2="433"/>
<line x1="486" y1="442" x2="407" y2="446"/>
<line x1="559" y1="473.5" x2="532" y2="474"/>
<line x1="531" y1="486" x2="518" y2="458"/>
<line x1="505" y1="298" x2="426" y2="298"/>
<line x1="373" y1="303" x2="414" y2="302"/>
<line x1="418" y1="319" x2="421.5" y2="279"/>
<line x1="500" y1="328" x2="492" y2="305"/>
<line x1="585" y1="114" x2="975" y2="126"/>
<line x1="589" y1="84" x2="597" y2="108"/>
<line x1="632" y1="73" x2="602" y2="92"/>
<line x1="862" y1="111" x2="893" y2="120.5"/>
<line x1="662" y1="153" x2="953" y2="158"/>
<line x1="666" y1="201" x2="675" y2="159"/>
<line x1="722" y1="178" x2="677" y2="178"/>
<line x1="750" y1="209.5" x2="709" y2="209"/>
<line x1="714" y1="240" x2="697" y2="186"/>
<line x1="983" y1="244" x2="954" y2="134"/>
<line x1="785" y1="365.5" x2="1067" y2="365.5"/>
<line x1="836" y1="334.5" x2="1005" y2="340"/>
<line x1="854" y1="308" x2="856.5" y2="332"/>
<line x1="1013" y1="329" x2="1011" y2="359"/>
<line x1="998" y1="385" x2="817" y2="381.5"/>
<line x1="810" y1="391" x2="806.5" y2="371"/>
<line x1="940" y1="429.6" x2="1095" y2="429.6"/>
<line x1="941" y1="472" x2="1041.5" y2="443"/>
<line x1="1009.5" y1="472" x2="1009.5" y2="458"/>
<line x1="1052.5" y1="458" x2="1048.5" y2="435"/>
<line x1="1437" y1="94.5" x2="982.5" y2="109.5"/>
<line x1="1287" y1="84" x2="1144" y2="88"/>
<line x1="1129" y1="75" x2="1129" y2="98"/>
<line x1="1279" y1="47" x2="1271.5" y2="76.5"/>
<line x1="1438" y1="51.5" x2="1285" y2="57.5"/>
<line x1="1128" y1="130" x2="1172" y2="122"/>
<line x1="1190" y1="132" x2="1168" y2="104.5"/>
<line x1="1339" y1="131" x2="1352" y2="103"/>
<line x1="1466" y1="137.5" x2="1358" y2="114.5"/>
<line x1="1463" y1="174" x2="1439" y2="137"/>
<line x1="1093" y1="192" x2="1100" y2="217"/>
<line x1="1263" y1="204" x2="1103" y2="202"/>
<line x1="1228" y1="178" x2="1188" y2="198.5"/>
<line x1="1399" y1="224.5" x2="1031" y2="224"/>
<line x1="1262" y1="243.5" x2="1121" y2="243"/>
<line x1="1115" y1="258" x2="1117" y2="229"/>
<line x1="1486" y1="288" x2="1055.5" y2="288"/>
<line class="thin" x1="1163" y1="270" x2="1163" y2="295"/>
<line x1="1152" y1="310.5" x2="1174.5" y2="314.5"/>
<line x1="1179" y1="331" x2="1182" y2="296.5"/>
<line x1="1370" y1="305" x2="1391" y2="315.5"/>
<line x1="1397" y1="329" x2="1409" y2="312.5"/>
<line x1="1431" y1="345" x2="1408.5" y2="294.5"/>
<line x1="1522" y1="354" x2="1442" y2="293.5"/>
<line x1="1173" y1="384.5" x2="1090.5" y2="384.5"/>
<line x1="1157" y1="419" x2="1157" y2="390"/>
<line x1="1229" y1="427" x2="1163.5" y2="410.5"/>
<line x1="1214" y1="488" x2="1209.5" y2="428"/>
<line x1="298" y1="569" x2="397" y2="587.5"/>
<line x1="402.5" y1="570" x2="402.5" y2="600"/>
<line x1="465" y1="579.5" x2="408" y2="582.5"/>
<line x1="310" y1="603" x2="547" y2="608.5"/>
<line x1="740" y1="548" x2="608" y2="548"/>
<line x1="619" y1="599" x2="644.5" y2="554"/>
<line x1="741" y1="587" x2="643" y2="572.5"/>
<line x1="110" y1="643" x2="150.5" y2="647.5"/>
<line x1="146" y1="612" x2="171" y2="694"/>
<line x1="129" y1="693" x2="446" y2="737"/>
<line x1="266" y1="673" x2="291.5" y2="710.5"/>
<line x1="348" y1="682" x2="283" y2="686.5"/>
<line x1="255" y1="736" x2="359" y2="751.5"/>
<line x1="331" y1="805" x2="375" y2="736.5"/>
<line x1="145" y1="773" x2="261.5" y2="773"/>
<line x1="254" y1="794" x2="292.5" y2="747.5"/>
<line x1="125" y1="850.5" x2="346" y2="866.5"/>
<line x1="114.5" y1="909" x2="229" y2="884.5"/>
<line x1="228" y1="904" x2="241" y2="865.5"/>
<line x1="114.5" y1="953" x2="149.5" y2="908"/>
<line x1="676" y1="813.5" x2="431.5" y2="776.5"/>
<line x1="688" y1="751" x2="549" y2="789"/>
<line x1="597" y1="707" x2="612.5" y2="765"/>
<line x1="574.5" y1="738" x2="600" y2="738"/>
<line x1="673.5" y1="694" x2="671" y2="727.5"/>
<line x1="692" y1="710" x2="653.5" y2="754"/>
<line x1="757" y1="872" x2="417.5" y2="796"/>
<line x1="724" y1="958" x2="704" y2="867.5"/>
<line x1="786" y1="927" x2="722" y2="923"/>
<line x1="481" y1="871" x2="381" y2="838.5"/>
<line x1="391" y1="896" x2="409" y2="856"/>
<line x1="523" y1="913" x2="413" y2="873"/>
<line x1="486" y1="957" x2="482" y2="903"/>
<line x1="1027" y1="560" x2="1026.5" y2="618"/>
<line x1="961" y1="581" x2="1022" y2="578.5"/>
<line x1="993" y1="623.5" x2="1061" y2="624.5"/>
<line x1="999" y1="668" x2="1169" y2="737"/>
<line x1="1098" y1="564" x2="1041.5" y2="678"/>
<line x1="1112" y1="611.5" x2="1090" y2="589"/>
<line x1="1098" y1="635.5" x2="1076" y2="620"/>
<line x1="964" y1="699.5" x2="1001" y2="711"/>
<line x1="969" y1="741.5" x2="1043.5" y2="690.5"/>
<line x1="1016" y1="769" x2="1005" y2="725"/>
<line x1="1038" y1="747" x2="1015" y2="744"/>
<line x1="982" y1="804" x2="1148.5" y2="798"/>
<line x1="1037" y1="858" x2="1011" y2="810.5"/>
<line x1="989" y1="858" x2="1015" y2="830.5"/>
<line x1="1034.5" y1="916" x2="1006.5" y2="853.5"/>
<line x1="1442" y1="794.5" x2="1206" y2="674"/>
<line x1="1266" y1="625.5" x2="1221" y2="675"/>
<line x1="1305" y1="689.5" x2="1341.5" y2="716"/>
<line x1="1366.5" y1="673.5" x2="1331.5" y2="700"/>
<line x1="1425" y1="669" x2="1333.5" y2="729"/>
<line x1="1463" y1="703.5" x2="1423" y2="720"/>
<line x1="1463" y1="754.5" x2="1372" y2="711.5"/>
<line x1="1222" y1="795.5" x2="1239.5" y2="820"/>
<line x1="1231" y1="851" x2="1293.5" y2="729.5"/>
<line x1="1411" y1="886" x2="1260" y2="814"/>
<line x1="1370" y1="836.5" x2="1371" y2="861.5"/>
<line x1="1250.5" y1="927" x2="1294.5" y2="838.5"/>
<line x1="1382" y1="927" x2="1284.5" y2="871.5"/>
</g>
</g>
</svg>
